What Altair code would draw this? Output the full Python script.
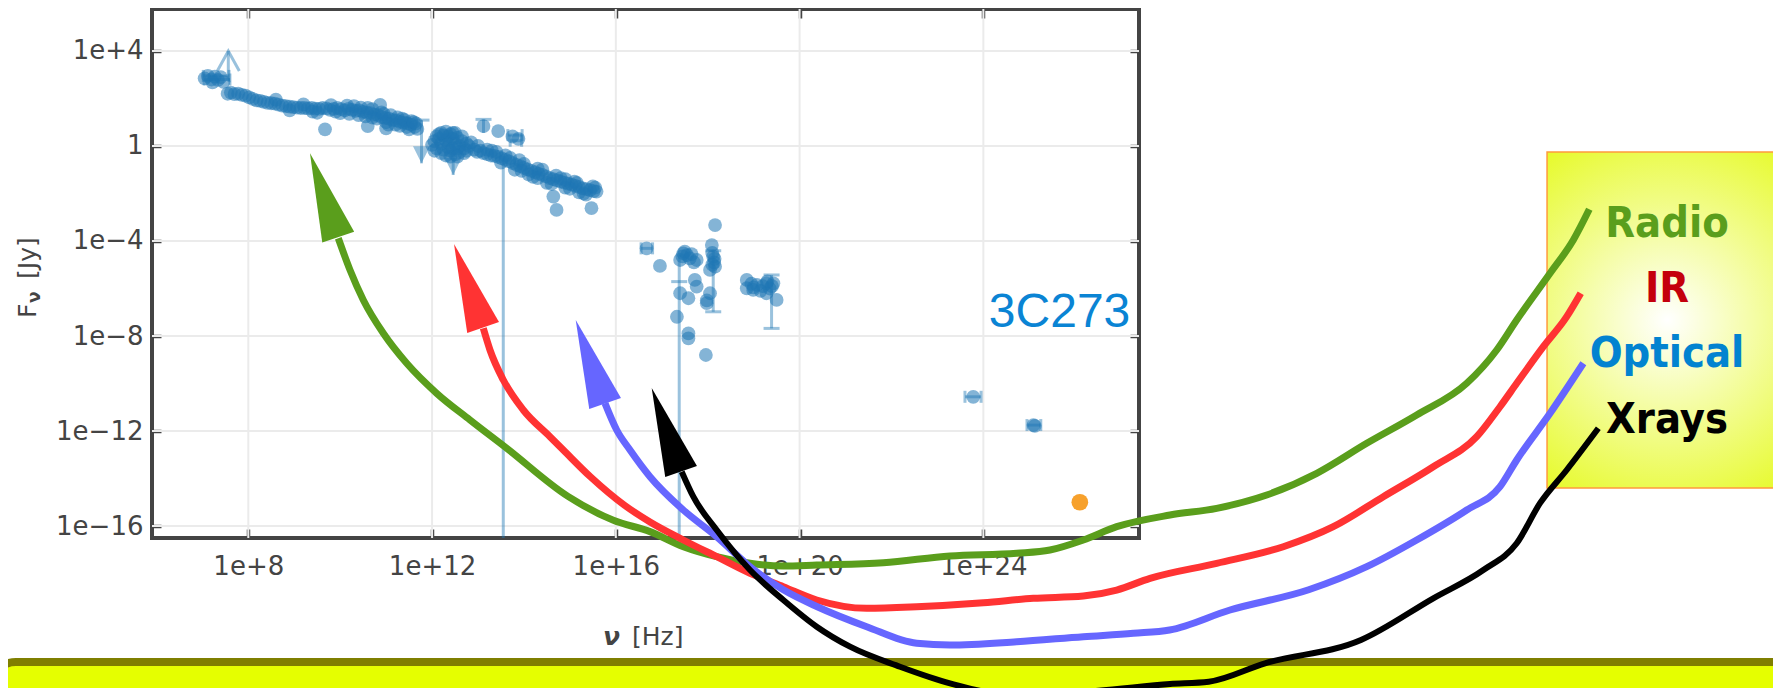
import altair as alt
import pandas as pd

# ---------------- axis ticks ----------------
x_ticks = [1e8, 1e12, 1e16, 1e20, 1e24]
y_ticks = [1e4, 1.0, 1e-4, 1e-8, 1e-12, 1e-16]

# ---------------- SED of 3C273: (log10 nu [Hz], log10 F_nu [Jy]) ----------------
radio_pts = [
    (7.05, 2.85), (7.12, 2.95), (7.2, 2.8), (7.27, 2.92), (7.34, 2.78), (7.4, 2.9), (7.46, 2.7), (7.22, 2.68),
    (7.55, 2.2), (7.62, 2.25), (7.7, 2.18), (7.78, 2.2), (7.86, 2.15), (7.94, 2.12),
    (8.02, 2.05), (8.1, 1.98), (8.18, 1.92), (8.26, 1.9), (8.34, 1.86), (8.42, 1.82), (8.5, 1.8),
    (8.58, 1.78), (8.66, 1.74), (8.74, 1.7), (8.82, 1.68), (8.9, 1.66), (8.98, 1.64),
    (9.06, 1.62), (9.14, 1.6), (9.22, 1.6), (9.3, 1.58), (9.38, 1.6), (9.46, 1.57), (9.54, 1.56),
    (9.62, 1.6), (9.7, 1.58), (9.78, 1.52), (9.86, 1.56), (9.94, 1.6),
    (10.02, 1.55), (10.1, 1.5), (10.18, 1.56), (10.26, 1.52), (10.34, 1.48), (10.42, 1.5), (10.5, 1.44),
    (10.58, 1.4), (10.66, 1.38), (10.74, 1.32), (10.82, 1.3), (10.9, 1.22), (10.98, 1.18),
    (11.06, 1.15), (11.14, 1.1), (11.22, 1.08), (11.3, 1.02), (11.38, 0.98), (11.46, 0.95),
    (11.54, 0.9), (11.62, 0.8), (11.68, 0.72),
    (9.5, 1.4), (9.9, 1.45), (10.2, 1.35), (10.45, 1.62), (10.55, 1.25), (10.7, 1.55), (10.8, 1.15),
    (10.9, 1.42), (11.0, 1.0), (11.1, 1.3), (11.2, 0.9), (11.35, 1.15), (11.45, 0.8), (11.55, 1.05),
    (11.65, 0.95), (10.6, 0.84), (11.0, 0.74), (9.67, 0.7), (10.87, 1.73),
    (8.6, 1.95), (8.9, 1.5), (9.2, 1.75), (9.4, 1.45), (9.8, 1.72), (10.0, 1.38), (10.3, 1.68),
    (10.4, 1.3), (10.7, 1.2), (10.95, 1.35), (11.05, 0.9), (11.25, 1.2), (11.4, 1.1), (11.5, 0.7),
    (11.6, 1.0), (10.15, 1.7), (10.6, 1.6), (11.3, 0.85),
]
ir_pts = [
    (12.0, 0.05), (12.05, 0.2), (12.1, -0.1), (12.15, 0.3), (12.2, 0.1), (12.25, 0.45), (12.3, 0.25),
    (12.35, -0.05), (12.4, 0.5), (12.45, 0.3), (12.5, 0.1), (12.55, 0.35), (12.6, 0.0), (12.65, 0.2),
    (12.7, -0.1), (12.75, 0.1), (12.8, 0.0), (12.2, -0.3), (12.3, -0.4), (12.4, -0.2), (12.5, -0.35),
    (12.6, -0.25), (12.7, -0.3), (12.35, 0.15), (12.45, -0.1),
    (12.05, -0.2), (12.15, 0.5), (12.25, -0.15), (12.35, 0.4), (12.45, 0.55), (12.55, -0.1),
    (12.65, 0.4), (12.75, -0.2), (12.85, 0.15), (12.1, 0.4), (12.3, 0.6), (12.5, 0.55), (12.2, 0.55),
    (12.4, -0.45), (12.55, -0.45),
    (13.12, 0.84), (13.44, 0.63), (13.75, 0.4), (13.88, 0.3),
]
optical_pts = [
    (12.92, -0.15), (12.98, -0.25), (13.05, -0.2), (13.12, -0.3), (13.2, -0.34), (13.28, -0.4),
    (13.36, -0.42), (13.44, -0.46), (13.52, -0.52), (13.6, -0.58), (13.68, -0.65), (13.76, -0.72),
    (13.84, -0.8), (13.92, -0.85), (14.0, -0.92), (14.08, -0.98), (14.16, -1.05), (14.24, -1.1),
    (14.32, -1.17), (14.4, -1.22), (14.48, -1.28), (14.56, -1.35), (14.64, -1.4), (14.72, -1.45),
    (14.8, -1.5), (14.88, -1.54), (14.96, -1.58), (15.04, -1.63), (15.12, -1.68), (15.2, -1.72),
    (15.28, -1.78), (15.36, -1.82), (15.44, -1.86), (15.52, -1.9), (15.58, -1.92),
    (13.3, -0.2), (13.6, -0.4), (13.9, -0.6), (14.1, -1.2), (14.3, -0.95), (14.5, -1.55), (14.7, -1.25),
    (14.9, -1.75), (15.1, -1.5), (15.3, -2.0), (15.5, -1.7), (15.2, -1.95),
    (13.0, 0.0), (13.2, -0.15), (13.4, -0.25), (13.5, -0.7), (13.7, -0.5), (13.8, -1.0), (14.0, -0.75),
    (14.2, -1.3), (14.4, -1.0), (14.6, -1.6), (14.8, -1.35), (15.0, -1.8), (15.15, -1.55),
    (15.35, -2.05), (15.55, -1.75), (14.9, -1.4), (14.3, -1.35), (13.95, -1.05),
    (14.64, -2.13), (14.71, -2.69), (15.47, -2.62),
]
xray_pts = [
    (16.67, -4.31), (16.96, -5.05), (17.4, -4.8), (17.47, -4.52), (17.55, -4.6), (17.61, -4.73),
    (17.76, -4.8), (17.5, -4.45), (18.16, -3.33), (18.09, -4.17), (18.12, -4.66), (18.16, -5.08),
    (18.05, -5.22), (18.14, -4.9), (17.72, -5.64), (17.76, -5.92), (17.4, -6.2), (17.58, -6.41),
    (17.98, -6.62), (17.33, -7.19), (17.58, -7.89), (17.58, -8.1), (17.96, -8.8), (18.05, -6.2),
    (17.98, -6.5), (18.85, -5.64), (18.85, -5.99), (19.07, -5.85), (19.28, -5.78), (19.43, -5.78),
    (19.28, -6.2), (19.5, -6.48), (18.99, -6.06), (19.15, -6.1), (19.35, -6.0),
    (17.45, -4.65), (17.65, -4.55), (17.7, -4.9), (18.1, -4.5), (18.15, -4.75), (18.1, -5.0),
    (19.2, -5.9), (19.3, -5.7), (19.4, -5.9), (18.95, -5.8), (19.0, -5.95),
]
gamma_pts = [(23.78, -10.56), (25.09, -11.75), (25.12, -11.78)]
tev_pts = [(26.10, -15.0)]

# error bars: (log nu, log F low, log F high)
vbars = [(13.12, 0.55, 1.12), (13.55, -21.0, -0.5), (17.38, -21.0, -4.6), (18.12, -6.98, -4.41),
         (19.39, -7.68, -5.43), (11.77, -0.73, 1.09), (12.46, -1.22, 0.0), (7.565, 2.75, 4.0)]
vcaps = [(13.12, 1.12), (18.12, -4.41), (18.12, -6.98), (19.39, -5.43), (19.39, -7.68),
         (17.38, -5.71), (11.77, 1.09)]
# horizontal error bars: (log F, log nu low, log nu high)
hbars = [(2.95, 7.02, 7.58), (2.8, 7.04, 7.6), (0.46, 13.65, 13.96), (0.22, 13.7, 13.95),
         (-4.31, 16.55, 16.8), (-10.56, 23.6, 23.95), (-11.75, 24.95, 25.25)]
up_limit_tips = [(7.565, 4.0)]
down_limit_tips = [(11.77, -0.73), (12.46, -1.22)]

# ---------------- annotation curves (log10 nu, log10 F) ----------------
curve_radio = [
    (9.959, -3.886), (10.214, -5.221), (10.503, -6.484), (10.939, -7.886), (11.448, -9.149),
    (12.101, -10.413), (12.826, -11.537), (13.625, -12.728), (14.959, -14.754), (15.947, -15.76),
    (16.744, -16.236), (17.469, -16.872), (18.196, -17.293), (18.921, -17.571), (19.646, -17.684),
    (20.373, -17.642), (21.822, -17.545), (23.274, -17.263), (24.726, -17.149), (25.451, -17.011),
    (26.176, -16.589), (26.903, -16.029), (28.063, -15.537), (29.079, -15.255), (30.168, -14.695),
    (31.257, -13.781), (32.345, -12.518), (33.433, -11.326), (34.522, -9.992), (35.175, -8.589),
    (35.610, -7.326), (36.335, -5.36), (36.842, -3.958), (37.190, -2.665),
]
curve_ir = [
    (13.115, -7.676), (13.261, -8.589), (13.551, -9.853), (13.986, -11.116), (14.567, -12.24),
    (14.857, -12.8), (15.453, -13.937), (16.196, -15.137), (16.744, -15.832), (17.469, -16.589),
    (18.196, -17.293), (18.921, -17.992), (19.646, -18.556), (20.373, -19.116), (21.461, -19.465),
    (22.549, -19.398), (24.0, -19.229), (25.088, -19.044), (26.176, -18.947), (26.903, -18.695),
    (27.628, -18.202), (29.079, -17.571), (30.529, -16.872), (31.618, -16.029), (32.706, -14.766),
    (33.794, -13.503), (34.739, -12.24), (35.246, -10.977), (35.610, -9.992), (36.189, -8.45),
    (36.698, -7.187), (37.003, -6.202),
]
curve_optical = [
    (15.765, -10.834), (16.019, -11.958), (16.309, -12.8), (16.744, -13.924), (17.469, -15.326),
    (18.196, -16.451), (18.921, -17.713), (19.646, -18.686), (20.373, -19.389), (21.461, -20.24),
    (22.549, -20.939), (23.274, -21.011), (24.726, -20.872), (26.176, -20.661), (27.264, -20.518),
    (28.054, -20.379), (29.369, -19.537), (31.082, -18.686), (32.345, -17.713), (33.433, -16.589),
    (34.522, -15.326), (35.246, -14.345), (35.610, -13.221), (36.335, -11.257), (37.060, -9.149),
]
curve_xrays = [
    (17.434, -13.714), (17.687, -14.766), (18.196, -16.168), (18.921, -17.853), (19.646, -19.116),
    (20.373, -20.24), (21.098, -21.082), (22.186, -21.924), (23.274, -22.623), (24.363, -23.044),
    (26.176, -22.977), (28.063, -22.653), (28.906, -22.556), (30.131, -21.781), (32.219, -20.8),
    (33.794, -19.044), (34.883, -17.853), (35.610, -16.728), (36.117, -15.04), (36.698, -13.642),
    (37.386, -11.886),
]
arrow_tips = [(9.343, -0.307), (12.478, -4.126), (15.127, -7.326), (16.781, -10.189)]
band_names = ["Radio", "IR", "Optical", "Xrays"]
band_label_pos = [(38.881, -3.832), (38.881, -6.568), (38.881, -9.305), (38.881, -12.084)]
source_name = ["3C273"]
source_pos = [(24.12, -7.62)]
legend_box = [(36.27, 41.494, -0.253, -14.4)]
banner_box = [(2.377, 41.777, -21.726, -24.168)]

# ---------------- styles ----------------
curve_colors = ["#5a9e1c", "#ff3333", "#6666ff", "#000000"]
curve_widths = [7, 7, 7, 6]
arrow_angles = [341.4, 340.8, 340.6, 340.6]
label_colors = ["#5a9e1c", "#c4000c", "#0283d0", "#000000"]
BLUE = "#1f77b4"
AX = "#444444"

XS = alt.Scale(type="log", domain=[10 ** 5.904, 10 ** 27.388], nice=False)
YS = alt.Scale(type="log", domain=[10 ** -16.505, 10 ** 5.768], nice=False)


def pdf(pairs):
    return pd.DataFrame({"nu": [10 ** a for a, b in pairs], "f": [10 ** b for a, b in pairs]})


def X(field="nu", axis=None):
    return alt.X(f"{field}:Q", scale=XS, axis=axis)


def Y(field="f", axis=None):
    return alt.Y(f"{field}:Q", scale=YS, axis=axis)


x_label_expr = "'1e+' + round(log(datum.value) / LN10)"
y_label_expr = ("datum.value == 1 ? '1' : (datum.value > 1 ? '1e+' : '1e\u2212') + "
                "abs(round(log(datum.value) / LN10))")

axis_bottom = alt.Axis(orient="bottom", values=x_ticks, labelExpr=x_label_expr, tickSize=9, tickWidth=3.5,
                       tickColor=AX, offset=-9, domain=False, grid=False, labelFont="DejaVu Sans",
                       labelFontSize=26, labelColor=AX, labelPadding=15, title=None, labelFlush=False,
                       labelOverlap=False)
axis_left = alt.Axis(orient="left", values=y_ticks, labelExpr=y_label_expr, tickSize=9, tickWidth=3.5,
                     tickColor=AX, offset=-9, domain=False, grid=False, labelFont="DejaVu Sans",
                     labelFontSize=26, labelColor=AX, labelPadding=9, title=None, labelFlush=False,
                     labelOverlap=False)
axis_top = alt.Axis(orient="top", values=x_ticks, tickSize=9, tickWidth=3.5, tickColor=AX, offset=-9,
                    domain=False, grid=False, labels=False, title=None)
axis_right = alt.Axis(orient="right", values=y_ticks, tickSize=9, tickWidth=3.5, tickColor=AX, offset=-9,
                      domain=False, grid=False, labels=False, title=None)

layers = []

# grid
layers.append(alt.Chart(pd.DataFrame({"nu": x_ticks})).mark_rule(color="#ebebeb", strokeWidth=2)
              .encode(x=X()))
layers.append(alt.Chart(pd.DataFrame({"f": y_ticks})).mark_rule(color="#ebebeb", strokeWidth=2)
              .encode(y=Y()))

# error bars and limits
vb = pd.DataFrame({"nu": [10 ** a for a, b, c in vbars], "lo": [10 ** b for a, b, c in vbars],
                   "hi": [10 ** c for a, b, c in vbars]})
layers.append(alt.Chart(vb).mark_rule(color=BLUE, opacity=0.45, strokeWidth=3, clip=True)
              .encode(x=X(), y=Y("lo"), y2="hi:Q"))
layers.append(alt.Chart(pdf(vcaps)).mark_tick(orient="horizontal", color=BLUE, opacity=0.45, size=16,
                                               thickness=3, clip=True).encode(x=X(), y=Y()))
hb = pd.DataFrame({"f": [10 ** a for a, b, c in hbars], "lo": [10 ** b for a, b, c in hbars],
                   "hi": [10 ** c for a, b, c in hbars]})
layers.append(alt.Chart(hb).mark_rule(color=BLUE, opacity=0.45, strokeWidth=3, clip=True)
              .encode(x=X("lo"), x2="hi:Q", y=Y()))
hcaps = pd.DataFrame({"nu": list(hb["lo"]) + list(hb["hi"]), "f": list(hb["f"]) * 2})
layers.append(alt.Chart(hcaps).mark_tick(orient="vertical", color=BLUE, opacity=0.45, size=12,
                                          thickness=3, clip=True).encode(x=X(), y=Y()))
layers.append(alt.Chart(pdf(up_limit_tips)).mark_point(shape="M-0.55,1L0,0L0.55,1", filled=False,
                                                       strokeWidth=3, size=1600, color=BLUE, opacity=0.45)
              .encode(x=X(), y=Y()))
layers.append(alt.Chart(pdf(down_limit_tips)).mark_point(shape="M-0.5,-1L0,0L0.5,-1Z", filled=True,
                                                         size=1156, color=BLUE, opacity=0.45)
              .encode(x=X(), y=Y()))

# SED points (carry the main axes)
all_pts = radio_pts + ir_pts + optical_pts + xray_pts + gamma_pts
layers.append(alt.Chart(pdf(all_pts)).mark_circle(size=190, opacity=0.55, color=BLUE, clip=True)
              .encode(x=X(axis=axis_bottom), y=Y(axis=axis_left)))
layers.append(alt.Chart(pdf(tev_pts)).mark_circle(size=280, opacity=1, color="#f7a12c", clip=True)
              .encode(x=X(), y=Y()))

# mirrored inner ticks on top and right
layers.append(alt.Chart(pd.DataFrame({"nu": [1e8], "f": [1.0]})).mark_point(opacity=0)
              .encode(x=X(axis=axis_top), y=Y(axis=axis_right)))

# source name
sdf = pdf(source_pos).assign(t=source_name)
layers.append(alt.Chart(sdf).mark_text(align="left", baseline="alphabetic", font="Liberation Sans, Arial",
                                       fontSize=48, color="#0a84d4")
              .encode(x=X(), y=Y(), text="t:N"))

# axis titles
layers.append(alt.Chart(pd.DataFrame({"t": ["\u03bd"]})).mark_text(
    align="left", baseline="alphabetic", font="DejaVu Sans", fontSize=25, fontWeight="bold",
    fontStyle="italic", color=AX).encode(x=alt.value(451), y=alt.value(636), text="t:N"))
layers.append(alt.Chart(pd.DataFrame({"t": ["[Hz]"]})).mark_text(
    align="left", baseline="alphabetic", font="DejaVu Sans", fontSize=25, color=AX)
    .encode(x=alt.value(480), y=alt.value(636), text="t:N"))
layers.append(alt.Chart(pd.DataFrame({"t": ["F"]})).mark_text(
    align="left", baseline="alphabetic", font="DejaVu Sans", fontSize=25, color=AX, angle=270)
    .encode(x=alt.value(-116), y=alt.value(309), text="t:N"))
layers.append(alt.Chart(pd.DataFrame({"t": ["\u03bd"]})).mark_text(
    align="left", baseline="alphabetic", font="DejaVu Sans", fontSize=17, fontWeight="bold", color=AX,
    angle=270).encode(x=alt.value(-112), y=alt.value(294), text="t:N"))
layers.append(alt.Chart(pd.DataFrame({"t": ["[Jy]"]})).mark_text(
    align="left", baseline="alphabetic", font="DejaVu Sans", fontSize=25, color=AX, angle=270)
    .encode(x=alt.value(-116), y=alt.value(270), text="t:N"))

# bottom banner
bdf = pd.DataFrame({"x1": [10 ** b[0] for b in banner_box], "x2": [10 ** b[1] for b in banner_box],
                    "y1": [10 ** b[2] for b in banner_box], "y2": [10 ** b[3] for b in banner_box]})
layers.append(alt.Chart(bdf).mark_rect(fill="#e5ff00", stroke="#7f7f00", strokeWidth=8, cornerRadius=26)
              .encode(x=X("x1"), x2="x2:Q", y=Y("y1"), y2="y2:Q"))

# legend box
ldf = pd.DataFrame({"x1": [10 ** b[0] for b in legend_box], "x2": [10 ** b[1] for b in legend_box],
                    "y1": [10 ** b[2] for b in legend_box], "y2": [10 ** b[3] for b in legend_box]})
grad = alt.RadialGradient(gradient="radial", x1=0.5, y1=0.5, r1=0, x2=0.5, y2=0.5, r2=0.62,
                          stops=[alt.GradientStop(offset=0, color="#ffffff"),
                                 alt.GradientStop(offset=1, color="#e6fa28")])
layers.append(alt.Chart(ldf).mark_rect(fill=grad, stroke="#ff9a3c", strokeWidth=1.5)
              .encode(x=X("x1"), x2="x2:Q", y=Y("y1"), y2="y2:Q"))

# curved arrows
for curve, tip, col, w, ang in zip([curve_radio, curve_ir, curve_optical, curve_xrays], arrow_tips,
                                   curve_colors, curve_widths, arrow_angles):
    cdf = pdf(curve).assign(i=range(len(curve)))
    layers.append(alt.Chart(cdf).mark_line(color=col, strokeWidth=w, interpolate="monotone",
                                           strokeCap="butt")
                  .encode(x=X(), y=Y(), order="i:Q"))
    layers.append(alt.Chart(pdf([tip])).mark_point(shape="M0,0L0.19,1L-0.19,1Z", filled=True, size=31329,
                                                    angle=ang, color=col, opacity=1)
                  .encode(x=X(), y=Y()))

# legend labels
tdf = pdf(band_label_pos).assign(t=band_names, c=label_colors)
layers.append(alt.Chart(tdf).mark_text(align="center", baseline="alphabetic",
                                       font="Liberation Sans Narrow, DejaVu Sans Condensed, sans-serif",
                                       fontWeight="bold", fontSize=43)
              .encode(x=X(), y=Y(), text="t:N", color=alt.Color("c:N", scale=None)))

chart = alt.layer(*layers).resolve_axis(x="independent", y="independent").properties(
    width=987, height=529, autosize=alt.AutoSizeParams(type="none"),
    padding={"left": 144, "top": 1, "right": 634, "bottom": 150},
).configure_view(stroke=AX, strokeWidth=4)

chart.save("out.html", embed_options={"renderer": "svg", "actions": False})
